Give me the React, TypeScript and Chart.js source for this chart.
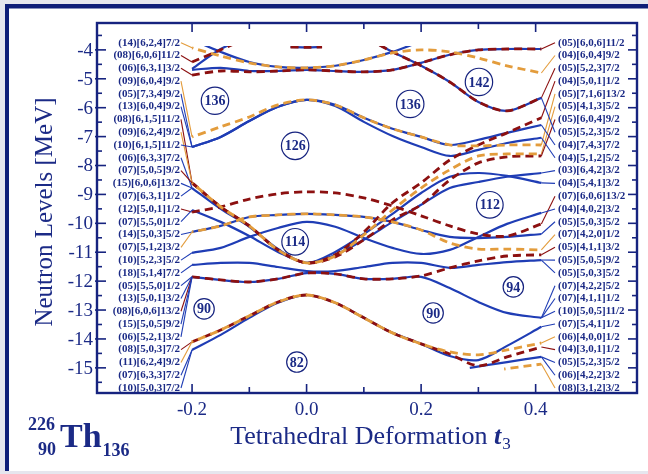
import React, { useEffect, useRef } from 'react';
import { Chart, registerables } from 'chart.js';

Chart.register(...registerables);

// ---------------- data ----------------
const tGrid = [-0.2, -0.15, -0.1, -0.05, 0, 0.05, 0.1, 0.15, 0.2, 0.25, 0.3, 0.35, 0.41];

const taOrangeE = [-3.93, -4.21, -4.45, -4.59, -4.62, -4.55, -4.35, -4.10, -4.00, -4.07, -4.28, -4.55, -4.80];
const taBlueE = [-3.65, -4.07, -4.42, -4.59, -4.62, -4.55, -4.35, -4.07, -3.72, -3.52, -3.41, -3.38, -3.38];
const tcRedE = [-4.42, -4.00, -3.58, -3.41, -3.34, -3.41, -3.58, -4.07, -4.55, -5.11, -5.80, -6.11, -5.66];
const tcBlueE = [-4.66, -3.97, -3.58, -3.41, -3.34, -3.41, -3.58, -4.07, -4.55, -5.11, -5.80, -6.11, -5.66];
const tdRedE = [-4.87, -4.73, -4.76, -4.73, -4.69, -4.73, -4.76, -4.69, -4.45, -4.17, -4.00, -3.97, -3.97];
const tdBlueE = [-4.69, -4.62, -4.73, -4.73, -4.69, -4.73, -4.76, -4.69, -4.45, -4.17, -4.00, -3.97, -3.97];
const topStubT = [-0.028, 0, 0.027];
const topStubE = [-3.90, -3.91, -3.90];
const u1OrangeE = [-7.01, -6.66, -6.32, -5.90, -5.73, -5.90, -6.35, -6.73, -7.01, -7.29, -7.32, -7.29, -7.29];
const u1BlueE = [-7.36, -7.01, -6.46, -5.97, -5.73, -5.90, -6.35, -6.73, -7.01, -7.29, -7.11, -6.87, -6.60];
const u2BlueE = [-7.36, -7.01, -6.46, -5.97, -5.73, -5.94, -6.49, -6.98, -7.36, -7.67, -7.46, -7.22, -7.04];
const xr1E = [-8.60, -9.43, -10.09, -10.92, -11.37, -11.09, -10.30, -9.29, -8.60, -7.81, -7.29, -6.87, -6.35];
const xoE = [-8.60, -9.43, -10.09, -10.92, -11.37, -11.13, -10.40, -9.54, -8.78, -8.15, -7.67, -7.60, -7.60];
const xr2E = [-8.60, -9.43, -10.09, -10.92, -11.37, -11.16, -10.57, -9.88, -9.36, -8.50, -7.91, -7.70, -7.67];
const xb1E = [-8.78, -9.50, -10.12, -10.89, -11.37, -10.99, -10.37, -9.67, -8.95, -8.39, -8.26, -8.36, -8.60];
const xb2E = [-9.54, -9.95, -10.44, -10.99, -11.37, -11.09, -10.57, -9.95, -9.36, -8.78, -8.57, -8.39, -8.26];
const archE = [-9.61, -9.43, -9.16, -8.98, -8.91, -8.95, -9.12, -9.40, -9.74, -10.09, -10.37, -10.44, -10.02];
const fBlueE = [-10.30, -10.09, -9.78, -9.71, -9.67, -9.71, -9.78, -9.95, -10.23, -10.47, -10.51, -10.47, -10.37];
const fOrangeE = [-10.30, -10.09, -9.78, -9.71, -9.67, -9.71, -9.78, -9.95, -10.23, -10.68, -10.89, -10.89, -10.92];
const lensE = [-11.02, -10.85, -10.47, -10.16, -9.95, -10.12, -10.51, -10.85, -11.06, -10.92, -10.47, -10.02, -9.64];
const b265E = [-11.44, -11.37, -11.37, -11.51, -11.65, -11.65, -11.51, -11.37, -11.37, -11.54, -11.44, -11.34, -11.27];
const c2BlueE = [-11.85, -11.96, -12.03, -11.92, -11.72, -11.75, -11.92, -11.92, -11.85, -12.24, -12.72, -13.10, -13.27];
const c2RedE = [-11.85, -11.96, -12.03, -11.92, -11.72, -11.75, -11.92, -11.92, -11.82, -11.54, -11.30, -11.13, -11.09];
const c1BlueE = [-14.38, -13.86, -13.27, -12.75, -12.48, -12.75, -13.27, -13.79, -14.17, -14.59, -14.73, -14.24, -13.58];
const c1OrangeE = [-14.10, -13.69, -13.20, -12.72, -12.48, -12.75, -13.27, -13.79, -14.17, -14.45, -14.55, -14.38, -14.14];
const c1RedE = [-14.10, -13.69, -13.20, -12.72, -12.48, -12.75, -13.27, -13.79, -14.17, -14.52, -14.93, -14.62, -14.28];
const dT = [0.285, 0.35, 0.41];
const dE = [-15.00, -14.80, -14.62];
const eT = [0.345, 0.41];
const eE = [-15.04, -14.87];

const leftLabels = [
  '(14)[6,2,4]7/2', '(08)[6,0,6]11/2', '(06)[6,3,1]3/2', '(09)[6,0,4]9/2', '(05)[7,3,4]9/2',
  '(13)[6,0,4]9/2', '(08)[6,1,5]11/2', '(09)[6,2,4]9/2', '(10)[6,1,5]11/2', '(06)[6,3,3]7/2',
  '(07)[5,0,5]9/2', '(15)[6,0,6]13/2', '(07)[6,3,1]1/2', '(12)[5,0,1]1/2', '(07)[5,5,0]1/2',
  '(14)[5,0,3]5/2', '(07)[5,1,2]3/2', '(10)[5,2,3]5/2', '(18)[5,1,4]7/2', '(05)[5,5,0]1/2',
  '(13)[5,0,1]3/2', '(08)[6,0,6]13/2', '(15)[5,0,5]9/2', '(06)[5,2,1]3/2', '(08)[5,0,3]7/2',
  '(11)[6,2,4]9/2', '(07)[6,3,3]7/2', '(10)[5,0,3]7/2',
];
const leftTargets = [
  'Ta', 'TcR', 'TdR', 'U1o', 'U1b', 'U2b', 'Xr1', 'Xo', 'U1b', 'Xb1', 'Xr2', 'Xb1', 'Xb1', 'Arch',
  'Xb2', 'Fb', 'Fo', 'L', 'B265', 'C2b', 'C2b', 'C2r', 'C2b', 'C2b', 'C1r', 'C1o', 'C1b', 'C1b',
];
const rightLabels = [
  '(05)[6,0,6]11/2', '(04)[6,0,4]9/2', '(05)[5,2,3]7/2', '(04)[5,0,1]1/2', '(05)[7,1,6]13/2',
  '(05)[4,1,3]5/2', '(05)[6,0,4]9/2', '(05)[5,2,3]5/2', '(04)[7,4,3]7/2', '(04)[5,1,2]5/2',
  '(03)[6,4,2]3/2', '(04)[5,4,1]3/2', '(07)[6,0,6]13/2', '(04)[4,0,2]3/2', '(05)[5,0,3]5/2',
  '(07)[4,2,0]1/2', '(05)[4,1,1]3/2', '(05)[5,0,5]9/2', '(05)[5,0,3]5/2', '(07)[4,2,2]5/2',
  '(07)[4,1,1]1/2', '(10)[5,0,5]11/2', '(07)[5,4,1]1/2', '(06)[4,0,0]1/2', '(04)[3,0,1]1/2',
  '(05)[5,2,3]5/2', '(06)[4,2,2]3/2', '(08)[3,1,2]3/2',
];
const rightTargets = [
  'TdR', 'Ta', 'TcR', 'Xr1', 'U1o', 'Xo', 'Xr2', 'TcB', 'U1b', 'U2b', 'Xb2', 'Xb1', 'Arch', 'L',
  'Fb', 'Fo', 'C2r', 'B265', 'B265', 'C2b', 'C2b', 'C2b', 'C1b', 'C1o', 'C1r', 'D', 'D', 'E',
];

const gapNumbers = ['136', '136', '142', '126', '114', '112', '90', '90', '94', '82'];
const gapT = [-0.160, 0.181, 0.301, -0.020, -0.020, 0.320, -0.179, 0.221, 0.361, -0.017];
const gapE = [-5.76, -5.87, -5.11, -7.32, -10.64, -9.36, -12.96, -13.10, -12.20, -14.80];

const xTickValues = [-0.2, 0, 0.2, 0.4];
const xTickLabels = ['-0.2', '0.0', '0.2', '0.4'];
const xMinorTicks = [-0.1, 0.1, 0.3];
const yTickValues = [-4, -5, -6, -7, -8, -9, -10, -11, -12, -13, -14, -15];
const yMinorTicks = [-3.5, -4.5, -5.5, -6.5, -7.5, -8.5, -9.5, -10.5, -11.5, -12.5, -13.5, -14.5, -15.5];

type Kind = 'blue' | 'red' | 'orange';
type Level = { key: string; kind: Kind; t: number[]; e: number[] };

const levels: Level[] = [
  { key: 'TaB', kind: 'blue', t: tGrid, e: taBlueE },
  { key: 'TcB', kind: 'blue', t: tGrid, e: tcBlueE },
  { key: 'TdB', kind: 'blue', t: tGrid, e: tdBlueE },
  { key: 'StubB', kind: 'blue', t: topStubT, e: topStubE },
  { key: 'U1b', kind: 'blue', t: tGrid, e: u1BlueE },
  { key: 'U2b', kind: 'blue', t: tGrid, e: u2BlueE },
  { key: 'Xb1', kind: 'blue', t: tGrid, e: xb1E },
  { key: 'Xb2', kind: 'blue', t: tGrid, e: xb2E },
  { key: 'Fb', kind: 'blue', t: tGrid, e: fBlueE },
  { key: 'L', kind: 'blue', t: tGrid, e: lensE },
  { key: 'B265', kind: 'blue', t: tGrid, e: b265E },
  { key: 'C2b', kind: 'blue', t: tGrid, e: c2BlueE },
  { key: 'C1b', kind: 'blue', t: tGrid, e: c1BlueE },
  { key: 'D', kind: 'blue', t: dT, e: dE },
  { key: 'TcR', kind: 'red', t: tGrid, e: tcRedE },
  { key: 'TdR', kind: 'red', t: tGrid, e: tdRedE },
  { key: 'StubR', kind: 'red', t: topStubT, e: topStubE },
  { key: 'Xr1', kind: 'red', t: tGrid, e: xr1E },
  { key: 'Xr2', kind: 'red', t: tGrid, e: xr2E },
  { key: 'Arch', kind: 'red', t: tGrid, e: archE },
  { key: 'C2r', kind: 'red', t: tGrid, e: c2RedE },
  { key: 'C1r', kind: 'red', t: tGrid, e: c1RedE },
  { key: 'Ta', kind: 'orange', t: tGrid, e: taOrangeE },
  { key: 'U1o', kind: 'orange', t: tGrid, e: u1OrangeE },
  { key: 'Xo', kind: 'orange', t: tGrid, e: xoE },
  { key: 'Fo', kind: 'orange', t: tGrid, e: fOrangeE },
  { key: 'C1o', kind: 'orange', t: tGrid, e: c1OrangeE },
  { key: 'E', kind: 'orange', t: eT, e: eE },
];

// ---------------- styles ----------------
const NAVY = '#16237f';
const TEXT = '#1b2a86';
const COLORS: Record<Kind, string> = { blue: '#1f3db5', red: '#8c1010', orange: '#e39c3c' };
const SERIF = '"Liberation Serif", "DejaVu Serif", serif';

const findLevel = (key: string) => levels.find((l) => l.key === key)!;

const decorPlugin = {
  id: 'decor',
  beforeDraw(chart: any) {
    const ctx = chart.ctx as CanvasRenderingContext2D;
    ctx.save();
    ctx.fillStyle = '#e6e6ee';
    ctx.fillRect(0, 0, chart.width, chart.height);
    ctx.fillStyle = '#ffffff';
    ctx.fillRect(5, 4, chart.width - 5, 467);
    ctx.fillStyle = '#0f1e78';
    ctx.fillRect(5, 4, chart.width - 5, 4.5);
    ctx.fillRect(5, 4, 4, 467);
    ctx.restore();
  },
  afterDatasetsDraw(chart: any) {
    const ctx = chart.ctx as CanvasRenderingContext2D;
    const xs = chart.scales.x;
    const ys = chart.scales.y;
    const { left, right, top, bottom } = chart.chartArea;
    ctx.save();

    const line = (x1: number, y1: number, x2: number, y2: number) => {
      ctx.beginPath();
      ctx.moveTo(x1, y1);
      ctx.lineTo(x2, y2);
      ctx.stroke();
    };

    // connectors + level labels
    const labelTop = 42.7;
    const labelStep = (388 - 42.7) / 27;
    ctx.lineWidth = 1.1;
    leftTargets.forEach((key, i) => {
      const lv = findLevel(key);
      const ly = labelTop + i * labelStep;
      ctx.strokeStyle = COLORS[lv.kind];
      line(181, ly, xs.getPixelForValue(lv.t[0]), ys.getPixelForValue(lv.e[0]));
    });
    rightTargets.forEach((key, i) => {
      const lv = findLevel(key);
      const ly = labelTop + i * labelStep;
      const n = lv.t.length - 1;
      ctx.strokeStyle = COLORS[lv.kind];
      line(xs.getPixelForValue(lv.t[n]), ys.getPixelForValue(lv.e[n]), 555, ly);
    });
    ctx.fillStyle = TEXT;
    ctx.font = `bold 11px ${SERIF}`;
    ctx.textBaseline = 'middle';
    ctx.textAlign = 'right';
    leftLabels.forEach((s, i) => ctx.fillText(s, 180, labelTop + i * labelStep));
    ctx.textAlign = 'left';
    rightLabels.forEach((s, i) => ctx.fillText(s, 558, labelTop + i * labelStep));

    // gap circles
    ctx.font = `bold 14px ${SERIF}`;
    ctx.textAlign = 'center';
    ctx.strokeStyle = NAVY;
    ctx.lineWidth = 1.2;
    gapNumbers.forEach((s, i) => {
      const px = xs.getPixelForValue(gapT[i]);
      const py = ys.getPixelForValue(gapE[i]);
      const w = ctx.measureText(s).width;
      const r = w / 2 + 3.2;
      ctx.fillStyle = 'rgba(255,255,255,0.85)';
      ctx.beginPath();
      ctx.arc(px, py, r, 0, Math.PI * 2);
      ctx.fill();
      ctx.stroke();
      ctx.fillStyle = TEXT;
      ctx.fillText(s, px, py + 1);
    });

    // frame and ticks
    ctx.strokeStyle = NAVY;
    ctx.lineWidth = 1.6;
    xTickValues.forEach((v) => {
      const px = xs.getPixelForValue(v);
      line(px, bottom, px, bottom - 9);
      line(px, top, px, top + 9);
    });
    xMinorTicks.forEach((v) => {
      const px = xs.getPixelForValue(v);
      line(px, bottom, px, bottom - 6);
      line(px, top, px, top + 6);
    });
    yTickValues.forEach((v) => {
      const py = ys.getPixelForValue(v);
      line(left - 2, py, left + 9, py);
      line(right, py, right - 9, py);
    });
    yMinorTicks.forEach((v) => {
      const py = ys.getPixelForValue(v);
      line(left, py, left + 5, py);
      line(right, py, right - 5, py);
    });
    ctx.lineWidth = 2.4;
    ctx.strokeRect(left, top, right - left, bottom - top);

    // tick labels
    ctx.fillStyle = TEXT;
    ctx.font = `19px ${SERIF}`;
    ctx.textAlign = 'right';
    ctx.textBaseline = 'middle';
    yTickValues.forEach((v) => ctx.fillText(String(v), 93, ys.getPixelForValue(v) + 1));
    ctx.textAlign = 'center';
    xTickValues.forEach((v, i) => ctx.fillText(xTickLabels[i], xs.getPixelForValue(v), 410));

    // y title
    ctx.save();
    ctx.translate(45, 212);
    ctx.rotate(-Math.PI / 2);
    ctx.font = `25px ${SERIF}`;
    ctx.textAlign = 'center';
    ctx.fillText('Neutron Levels [MeV]', 0, 0);
    ctx.restore();

    // x title
    ctx.textBaseline = 'alphabetic';
    ctx.textAlign = 'left';
    const s1 = 'Tetrahedral Deformation ';
    ctx.font = `26px ${SERIF}`;
    const w1 = ctx.measureText(s1).width;
    ctx.font = `italic bold 26px ${SERIF}`;
    const w2 = ctx.measureText('t').width;
    ctx.font = `17px ${SERIF}`;
    const w3 = ctx.measureText('3').width;
    let x0 = 370 - (w1 + w2 + w3) / 2;
    ctx.font = `26px ${SERIF}`;
    ctx.fillText(s1, x0, 444);
    x0 += w1;
    ctx.font = `italic bold 26px ${SERIF}`;
    ctx.fillText('t', x0, 444);
    x0 += w2 + 1;
    ctx.font = `17px ${SERIF}`;
    ctx.fillText('3', x0, 449);

    // isotope
    ctx.font = `bold 34px ${SERIF}`;
    ctx.fillText('Th', 60, 447);
    const wTh = ctx.measureText('Th').width;
    ctx.font = `bold 18px ${SERIF}`;
    ctx.fillText('226', 28, 430);
    ctx.fillText('90', 38, 455);
    ctx.fillText('136', 60 + wTh + 1, 456);

    ctx.restore();
  },
};

export default function App() {
  const ref = useRef<HTMLCanvasElement>(null);
  useEffect(() => {
    const canvas = ref.current!;
    const datasets = levels.map((lv) => {
      const dashed = lv.kind !== 'blue';
      return {
        label: lv.key,
        data: lv.t.map((t, i) => ({ x: t, y: lv.e[i] })),
        showLine: true,
        borderColor: COLORS[lv.kind],
        backgroundColor: COLORS[lv.kind],
        borderWidth: dashed ? 2.8 : 2.2,
        borderDash: dashed ? [8, 5] : [],
        borderDashOffset: lv.kind === 'orange' ? 6.5 : 0,
        pointRadius: 0,
        tension: 0.3,
        fill: false,
        order: lv.kind === 'blue' ? 3 : lv.kind === 'red' ? 2 : 1,
        clip: { left: 5, top: -23, right: 5, bottom: 5 },
      };
    });
    const chart = new Chart(canvas, {
      type: 'scatter',
      data: { datasets: datasets as any },
      options: {
        animation: false,
        responsive: false,
        devicePixelRatio: 1,
        events: [],
        layout: { padding: { left: 97, right: 11, top: 23, bottom: 81 } },
        plugins: { legend: { display: false }, tooltip: { enabled: false } },
        scales: {
          x: { type: 'linear', min: -0.366, max: 0.577, display: false },
          y: { type: 'linear', min: -15.87, max: -3.07, display: false },
        },
      },
      plugins: [decorPlugin],
    });
    return () => chart.destroy();
  }, []);
  return (
    <div style={{ position: 'fixed', left: 0, top: 0, width: 648, height: 474 }}>
      <canvas ref={ref} width={648} height={474} style={{ display: 'block', width: 648, height: 474 }} />
    </div>
  );
}
